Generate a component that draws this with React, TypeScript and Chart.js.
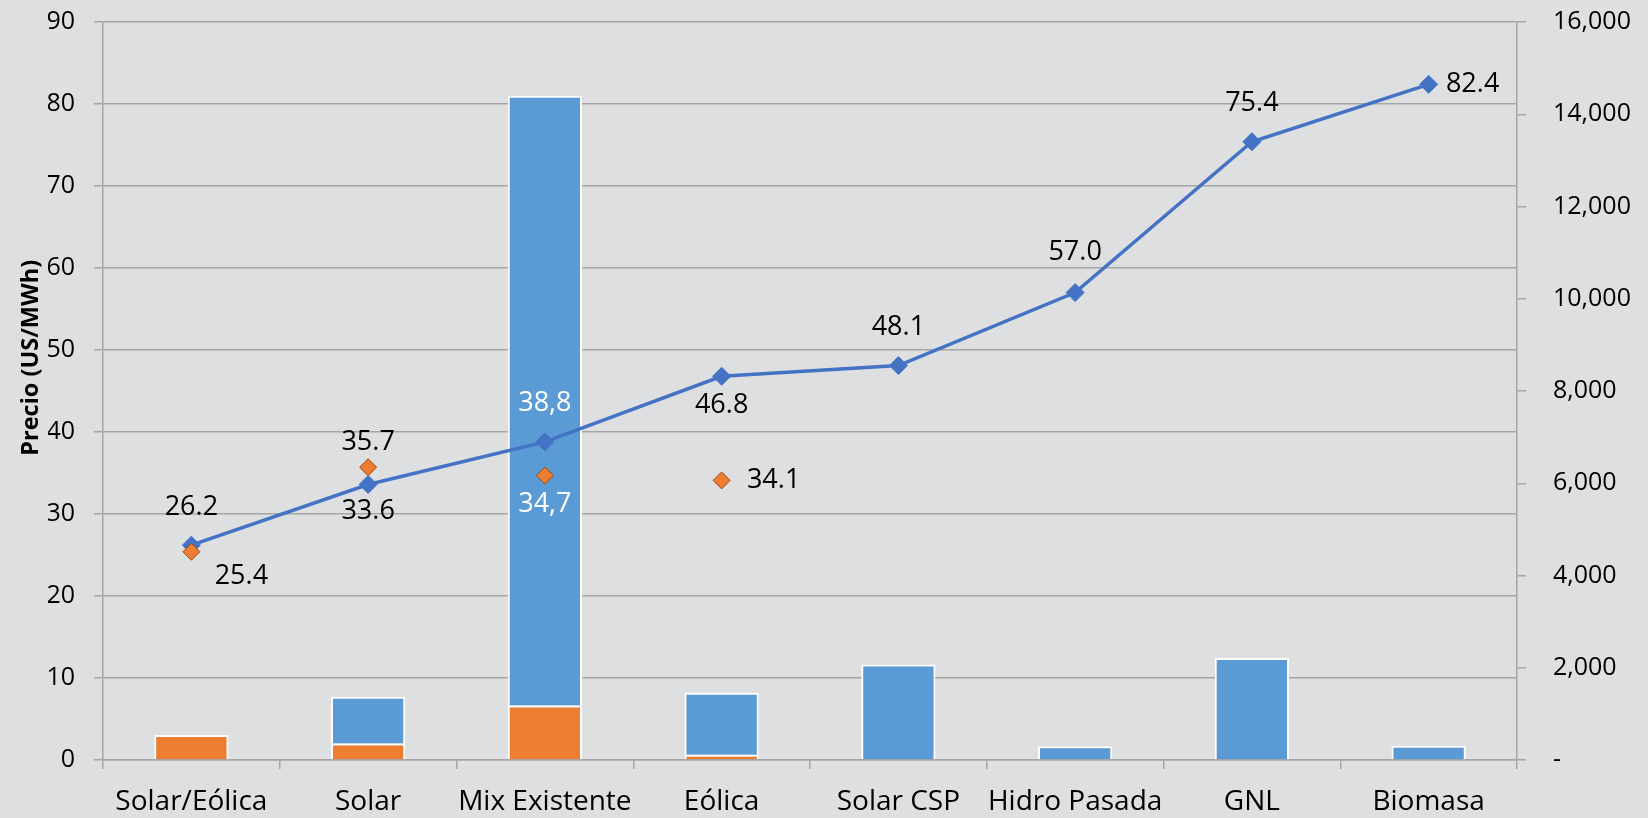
import React, { useEffect, useRef } from "react";
import { Chart, registerables } from "chart.js";

Chart.register(...registerables);

const categories = ["Solar/Eólica", "Solar", "Mix Existente", "Eólica", "Solar CSP", "Hidro Pasada", "GNL", "Biomasa"];
const barOrange = [540, 360, 1180, 115, 0, 0, 0, 0];
const barBlue = [10, 1010, 13220, 1345, 2070, 300, 2210, 310];
const linePrices = [26.2, 33.6, 38.8, 46.8, 48.1, 57.0, 75.4, 82.4];
const lineLabels = ["26.2", "33.6", "38,8", "46.8", "48.1", "57.0", "75.4", "82.4"];
const orangePrices = [25.4, 35.7, 34.7, 34.1, null, null, null, null];
const orangeLabels = ["25.4", "35.7", "34,7", "34.1", "", "", "", ""];
const axisTitle = "Precio (US/MWh)";

const FONT = "'Open Sans', sans-serif";
const BG = "#DEDFE1";
const GRID = "#A5A5A5";

// label placement styles: [dx, dy, color]
const lineLabelStyle: [number, number, string][] = [
  [0, -38, "#000"], [0, 27, "#000"], [0, -39, "#fff"], [0, 29, "#000"],
  [0, -38, "#000"], [0, -40, "#000"], [0, -38, "#000"], [44, 0, "#000"],
];
const orangeLabelStyle: [number, number, string][] = [
  [50, 25, "#000"], [0, -25, "#000"], [0, 29, "#fff"], [52, 0, "#000"],
  [0, 0, "#000"], [0, 0, "#000"], [0, 0, "#000"], [0, 0, "#000"],
];

const labelPlugin = {
  id: "pointLabels",
  afterDatasetsDraw(chart: any) {
    const ctx = chart.ctx;
    ctx.save();
    ctx.font = `27px ${FONT}`;
    ctx.textAlign = "center";
    ctx.textBaseline = "middle";
    const draw = (dsIndex: number, texts: string[], styles: [number, number, string][]) => {
      const meta = chart.getDatasetMeta(dsIndex);
      meta.data.forEach((pt: any, i: number) => {
        if (!texts[i]) return;
        const [dx, dy, color] = styles[i];
        ctx.fillStyle = color;
        ctx.fillText(texts[i], pt.x + dx, pt.y + dy);
      });
    };
    draw(2, lineLabels, lineLabelStyle);
    draw(3, orangeLabels, orangeLabelStyle);
    ctx.restore();
  },
};

const titlePlugin = {
  id: "leftTitle",
  afterDraw(chart: any) {
    const ctx = chart.ctx;
    const area = chart.chartArea;
    ctx.save();
    ctx.translate(31, area.top + (area.bottom - area.top) * 0.455);
    ctx.rotate(-Math.PI / 2);
    ctx.font = `bold 23.5px ${FONT}`;
    ctx.fillStyle = "#000";
    ctx.textAlign = "center";
    ctx.textBaseline = "middle";
    ctx.fillText(axisTitle, 0, 0);
    ctx.restore();
  },
};

const noVPad = (s: any) => { s.paddingTop = 0; s.paddingBottom = 0; };

export default function App() {
  const ref = useRef<HTMLCanvasElement>(null);
  useEffect(() => {
    document.body.style.margin = "0";
    document.body.style.background = BG;
    const chart = new Chart(ref.current!, {
      type: "bar",
      data: {
        labels: categories,
        datasets: [
          {
            type: "bar",
            data: barOrange,
            backgroundColor: "#ED7D31",
            borderColor: "#FFFFFF",
            borderWidth: 2,
            borderSkipped: "bottom",
            yAxisID: "y1",
            stack: "s",
            order: 2,
            categoryPercentage: 1,
            barPercentage: 0.42,
          } as any,
          {
            type: "bar",
            data: barBlue,
            backgroundColor: "#5B9BD5",
            borderColor: "#FFFFFF",
            borderWidth: 2,
            borderSkipped: "bottom",
            yAxisID: "y1",
            stack: "s",
            order: 3,
            categoryPercentage: 1,
            barPercentage: 0.42,
          } as any,
          {
            type: "line",
            data: linePrices,
            borderColor: "#4472C4",
            backgroundColor: "#4472C4",
            borderWidth: 3.5,
            pointStyle: "rectRot",
            pointRadius: 9,
            pointBorderWidth: 1,
            pointBorderColor: "#4472C4",
            yAxisID: "y",
            order: 1,
            tension: 0,
          } as any,
          {
            type: "line",
            data: orangePrices,
            showLine: false,
            backgroundColor: "#ED7D31",
            borderColor: "#9C4A12",
            pointStyle: "rectRot",
            pointRadius: 8.5,
            pointBorderWidth: 1,
            yAxisID: "y",
            order: 0,
          } as any,
        ],
      },
      options: {
        responsive: false,
        animation: false,
        layout: { padding: { top: 22, left: 48, right: 0, bottom: 0 } },
        plugins: { legend: { display: false }, tooltip: { enabled: false } },
        scales: {
          x: {
            stacked: true,
            offset: true,
            grid: { offset: true, drawOnChartArea: false, drawTicks: true, tickLength: 9, color: GRID, lineWidth: 1.5 },
            border: { display: true, color: GRID, width: 1.5 },
            ticks: { color: "#000", font: { family: FONT, size: 28 }, padding: 16, maxRotation: 0, autoSkip: false },
            afterFit: (s: any) => { s.height = 58; },
          },
          y: {
            position: "left",
            min: 0,
            max: 90,
            ticks: { stepSize: 10, color: "#000", font: { family: FONT, size: 25 }, padding: 19 },
            grid: { color: GRID, lineWidth: 1.5, tickLength: 9 },
            border: { display: true, color: GRID, width: 1.5 },
            afterFit: (s: any) => { s.width = 55; noVPad(s); },
          },
          y1: {
            position: "right",
            stacked: true,
            min: 0,
            max: 16000,
            ticks: {
              stepSize: 2000,
              color: "#000",
              font: { family: FONT, size: 25 },
              padding: 27,
              callback: (v: any) => (v === 0 ? "-" : Number(v).toLocaleString("en-US")),
            },
            grid: { drawOnChartArea: false, color: GRID, lineWidth: 1.5, tickLength: 9 },
            border: { display: true, color: GRID, width: 1.5 },
            afterFit: (s: any) => { s.width = 131; noVPad(s); },
          },
        },
      } as any,
      plugins: [labelPlugin, titlePlugin],
    });
    return () => chart.destroy();
  }, []);
  return (
    <div style={{ width: 1648, height: 818, background: BG }}>
      <canvas ref={ref} width={1648} height={818} style={{ display: "block" }} />
    </div>
  );
}
